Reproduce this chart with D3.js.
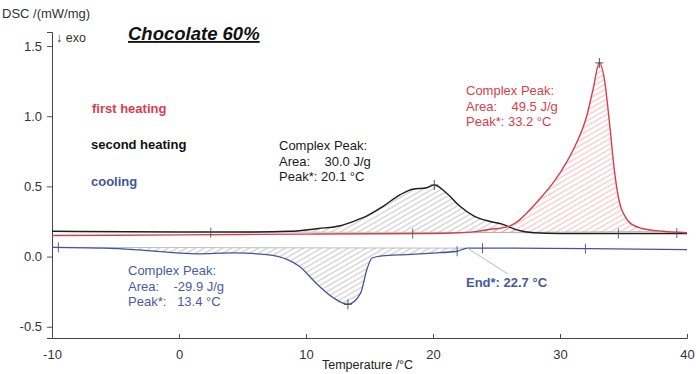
<!DOCTYPE html>
<html>
<head>
<meta charset="utf-8">
<script src="https://cdn.jsdelivr.net/npm/d3@7"></script>
<style>
  body { margin: 0; background: #fff; }
  svg { font-family: "Liberation Sans", Arial, sans-serif; }
</style>
</head>
<body>
<div id="chart"></div>
<script>
// first heating (red)
var firstT = [-10, 0, 10, 20, 22, 23.5, 24.5, 25.5, 26.1, 26.8, 27.6, 28.4, 29.5, 30.5, 31.2, 32.1, 32.6, 33.1, 33.5, 33.9, 34.3, 34.7, 35.1, 35.5, 36.5, 38.1, 40];
var firstV = [0.15, 0.155, 0.16, 0.165, 0.17, 0.18, 0.195, 0.205, 0.22, 0.26, 0.33, 0.41, 0.53, 0.67, 0.79, 1.0, 1.19, 1.38, 1.26, 0.95, 0.60, 0.38, 0.29, 0.24, 0.20, 0.18, 0.17];
// second heating (black)
var secondT = [-10, 0, 5, 8.7, 11, 12.7, 14, 14.8, 16.1, 17.4, 18.4, 19.5, 20.1, 21.1, 22.1, 23.2, 24.5, 25.5, 26.6, 27.9, 30, 35, 40];
var secondV = [0.18, 0.175, 0.175, 0.18, 0.2, 0.22, 0.26, 0.29, 0.36, 0.44, 0.48, 0.49, 0.51, 0.45, 0.36, 0.29, 0.25, 0.23, 0.19, 0.17, 0.165, 0.165, 0.165];
// cooling (blue)
var coolT = [-10, -6, -3.6, -0.2, 1.4, 4.3, 6.9, 8.5, 9.5, 10.8, 12.1, 13.3, 14.3, 14.8, 15.2, 16, 17.9, 20, 21.9, 22.7, 24, 32, 40];
var coolV = [0.066, 0.06, 0.05, 0.026, 0.02, 0.026, 0.014, -0.02, -0.07, -0.19, -0.29, -0.34, -0.26, -0.09, -0.01, 0.005, 0.014, 0.025, 0.038, 0.06, 0.06, 0.057, 0.05];

// integration ranges [t0, v0, t1, v1]
var firstBase = [22, 0.17, 38.1, 0.18];
var secondBase = [5, 0.175, 27.9, 0.17];
var coolBase = [-10, 0.066, 22.7, 0.06];

var xTicks = [-10, 0, 10, 20, 30, 40];
var yTicks = [-0.5, 0.0, 0.5, 1.0, 1.5];

// little cross marks on the curves
var lineMarks = [[2.5, 0.17], [18.4, 0.165], [34.6, 0.165], [39.2, 0.168]];
var coolMarks = [[-9.5, 0.066], [21.9, 0.038], [23.9, 0.06], [32, 0.057]];
var peaks = [[33.1, 1.38], [20.1, 0.51], [13.3, -0.34]];

var red = "#d6404e", blue = "#42549a", blk = "#1e1e1e";

var width = 696, height = 374;
var x = d3.scaleLinear().domain([-10, 40]).range([52, 687]);
var y = d3.scaleLinear().domain([-0.58, 1.6]).range([338, 32]);

var svg = d3.select("#chart").append("svg")
    .attr("width", width)
    .attr("height", height);

var defs = svg.append("defs");
function hatch(id, color) {
    defs.append("pattern")
        .attr("id", id)
        .attr("width", 4.5).attr("height", 4.5)
        .attr("patternUnits", "userSpaceOnUse")
        .attr("patternTransform", "rotate(-30)")
        .append("line")
        .attr("x1", 0).attr("y1", 2).attr("x2", 4.5).attr("y2", 2)
        .attr("stroke", color).attr("stroke-width", 0.9);
}
hatch("hGray", "#bdbdbd");
hatch("hRed", "#eeb3b8");

function zip(ts, vs) { return ts.map(function(t, i) { return [t, vs[i]]; }); }
function baseAt(b, t) { return b[1] + (b[3] - b[1]) * (t - b[0]) / (b[2] - b[0]); }

var line = d3.line()
    .x(function(d) { return x(d[0]); })
    .y(function(d) { return y(d[1]); })
    .curve(d3.curveMonotoneX);

function drawArea(ts, vs, b, fill) {
    var pts = zip(ts, vs).filter(function(d) { return d[0] >= b[0] && d[0] <= b[2]; });
    var area = d3.area()
        .x(function(d) { return x(d[0]); })
        .y0(function(d) { return y(baseAt(b, d[0])); })
        .y1(function(d) { return y(d[1]); })
        .curve(d3.curveMonotoneX);
    svg.append("path").attr("d", area(pts)).attr("fill", "url(#" + fill + ")");
    svg.append("line")
        .attr("x1", x(b[0])).attr("y1", y(b[1]))
        .attr("x2", x(b[2])).attr("y2", y(b[3]))
        .attr("stroke", "#b0b0b0").attr("stroke-width", 0.8);
}
drawArea(coolT, coolV, coolBase, "hGray");
drawArea(secondT, secondV, secondBase, "hGray");
drawArea(firstT, firstV, firstBase, "hRed");

// axes (plain hyphen for negatives, like the original)
var yAxis = d3.axisLeft(y).tickValues(yTicks).tickSize(5)
    .tickFormat(function(d) { return d.toFixed(1); });
var yMinor = d3.axisLeft(y).tickValues(d3.range(-0.5, 1.61, 0.1)).tickSize(3).tickFormat("");
var xAxis = d3.axisBottom(x).tickValues(xTicks).tickSize(-4).tickPadding(12)
    .tickFormat(function(d) { return String(d); });
var xMinor = d3.axisBottom(x).tickValues(d3.range(-10, 40.1, 2)).tickSize(-3).tickFormat("");

var gy = svg.append("g").attr("transform", "translate(52,0)");
gy.call(yMinor);
gy.call(yAxis);
var gx = svg.append("g").attr("transform", "translate(0,338)");
gx.call(xMinor);
gx.call(xAxis);
svg.selectAll(".domain").attr("stroke", "#444");
svg.selectAll(".tick line").attr("stroke", "#555");
svg.selectAll(".tick text").attr("font-size", 13).attr("fill", "#333")
    .attr("font-family", "Liberation Sans, Arial, sans-serif");
gy.selectAll(".tick text").attr("dx", -2);

// curves
svg.append("path").attr("d", line(zip(coolT, coolV)))
    .attr("fill", "none").attr("stroke", blue).attr("stroke-width", 1.3);
svg.append("path").attr("d", line(zip(secondT, secondV)))
    .attr("fill", "none").attr("stroke", blk).attr("stroke-width", 1.4);
svg.append("path").attr("d", line(zip(firstT, firstV)))
    .attr("fill", "none").attr("stroke", red).attr("stroke-width", 1.4);

// marks
function tick(d, col, w) {
    svg.append("line")
        .attr("x1", x(d[0])).attr("x2", x(d[0]))
        .attr("y1", y(d[1]) - 5).attr("y2", y(d[1]) + 5)
        .attr("stroke", col).attr("stroke-width", 0.9);
    if (w) {
        svg.append("line")
            .attr("x1", x(d[0]) - w).attr("x2", x(d[0]) + w)
            .attr("y1", y(d[1])).attr("y2", y(d[1]))
            .attr("stroke", col).attr("stroke-width", 0.9);
    }
}
lineMarks.forEach(function(d) { tick(d, "#555"); });
coolMarks.forEach(function(d) { tick(d, "#44507a"); });
peaks.forEach(function(d) { tick(d, "#444", 4); });

// leader line for End*
svg.append("line")
    .attr("x1", x(22.7)).attr("y1", y(0.06))
    .attr("x2", 508).attr("y2", 274)
    .attr("stroke", "#bbb").attr("stroke-width", 1);

// texts
function txt(xp, yp, s, opt) {
    opt = opt || {};
    return svg.append("text").attr("x", xp).attr("y", yp).text(s)
        .attr("font-size", opt.size || 13)
        .attr("font-weight", opt.bold ? "bold" : "normal")
        .attr("font-style", opt.italic ? "italic" : "normal")
        .attr("fill", opt.color || "#222");
}
txt(2, 18, "DSC /(mW/mg)", {size: 13, color: "#333"});
txt(56, 42, "\u2193 exo", {size: 12.5, color: "#333"});
txt(128, 40, "Chocolate 60%", {size: 18.5, bold: true, italic: true, color: "#111"})
    .attr("text-decoration", "underline");

txt(92, 113, "first heating", {bold: true, color: red});
txt(91, 149, "second heating", {bold: true, color: "#111"});
txt(91, 186, "cooling", {bold: true, color: blue});

function block(xp, yp, lines, col) {
    lines.forEach(function(s, i) {
        var t = svg.append("text").attr("x", xp).attr("y", yp + i * 15.5)
            .attr("font-size", 13).attr("fill", col).attr("xml:space", "preserve");
        t.text(s);
    });
}
block(466, 95, ["Complex Peak:", "Area:    49.5 J/g", "Peak*: 33.2 \u00b0C"], red);
block(279, 150, ["Complex Peak:", "Area:    30.0 J/g", "Peak*: 20.1 \u00b0C"], "#1a1a1a");
block(128, 275, ["Complex Peak:", "Area:    -29.9 J/g", "Peak*:   13.4 \u00b0C"], "#4a5aa6");
txt(466, 287, "End*: 22.7 \u00b0C", {bold: true, color: "#4a5a96"});

txt(322, 369, "Temperature /\u00b0C", {size: 12.5, color: "#222"});
</script>
</body>
</html>
